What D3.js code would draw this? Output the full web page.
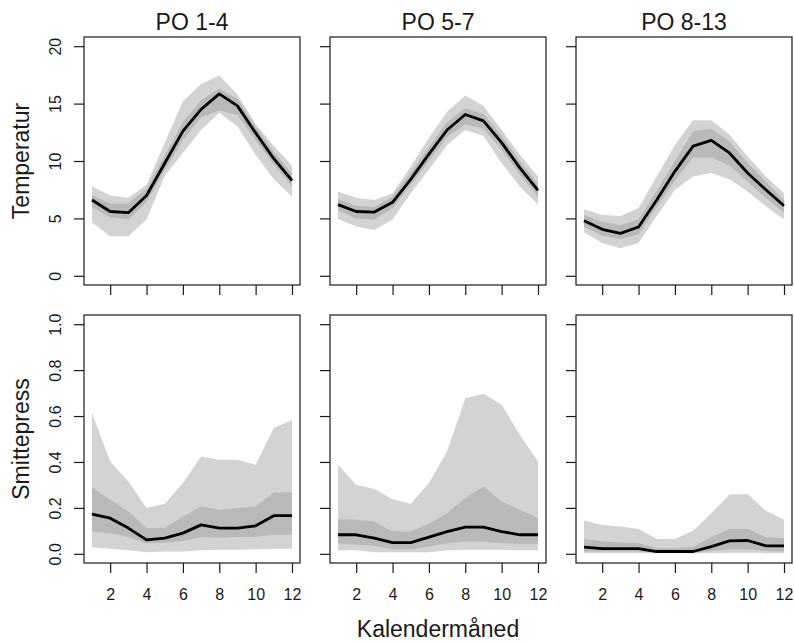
<!DOCTYPE html>
<html>
<head>
<meta charset="utf-8">
<script src="https://cdn.jsdelivr.net/npm/d3@7"></script>
<style>
  body { margin: 0; background: #fff; }
  svg { font-family: 'Liberation Sans', Arial, sans-serif; }
</style>
</head>
<body>
<svg id="chart" width="794" height="642"></svg>
<script>
// Data: monthly quantiles (median, inner band, outer band) per production area
var months = [1, 2, 3, 4, 5, 6, 7, 8, 9, 10, 11, 12]
var groups = ['PO 1-4', 'PO 5-7', 'PO 8-13']
var x_ticks = [2, 4, 6, 8, 10, 12]
var temp_ticks = [0, 5, 10, 15, 20]
var press_ticks = [0.0, 0.2, 0.4, 0.6, 0.8, 1.0]

// Temperatur
var temp_mid = [
  [6.6, 5.6, 5.5, 7.0, 9.8, 12.6, 14.5, 15.85, 14.8, 12.45, 10.2, 8.3],
  [6.2, 5.6, 5.55, 6.4, 8.4, 10.6, 12.7, 14.05, 13.5, 11.6, 9.4, 7.45],
  [4.8, 4.05, 3.7, 4.25, 6.6, 9.1, 11.3, 11.8, 10.7, 8.95, 7.5, 6.1]
]
var temp_in_hi = [
  [7.0, 6.3, 6.3, 7.6, 10.5, 13.4, 15.3, 16.3, 15.4, 13.0, 10.8, 8.9],
  [6.7, 6.1, 6.0, 6.9, 9.0, 11.2, 13.4, 14.6, 14.1, 12.2, 10.0, 8.0],
  [5.3, 4.7, 4.4, 4.9, 7.4, 10.0, 12.6, 12.8, 11.7, 9.8, 8.2, 6.6]
]
var temp_in_lo = [
  [6.0, 5.1, 4.9, 6.4, 9.2, 11.8, 13.8, 14.4, 14.0, 11.8, 9.7, 7.8],
  [5.7, 5.0, 4.9, 5.9, 7.9, 10.0, 12.1, 13.2, 12.8, 11.0, 8.8, 6.9],
  [4.3, 3.5, 3.2, 3.6, 6.0, 8.3, 10.3, 10.3, 9.6, 8.2, 6.8, 5.5]
]
var temp_out_hi = [
  [7.8, 7.0, 6.8, 7.9, 11.6, 15.2, 16.7, 17.45, 15.8, 13.2, 11.3, 9.6],
  [7.35, 6.8, 6.6, 7.2, 9.5, 12.0, 14.3, 15.7, 14.8, 12.7, 10.55, 8.65],
  [5.8, 5.3, 5.2, 5.9, 8.65, 11.4, 13.55, 13.55, 12.3, 10.4, 8.65, 7.2]
]
var temp_out_lo = [
  [4.65, 3.45, 3.45, 4.9, 8.7, 10.7, 12.7, 14.2, 13.0, 10.55, 8.4, 6.9],
  [4.95, 4.3, 4.0, 4.9, 7.2, 9.25, 11.4, 12.7, 12.2, 9.8, 7.8, 6.2],
  [3.8, 2.85, 2.4, 2.85, 5.2, 7.5, 8.65, 8.95, 8.4, 7.35, 6.05, 4.9]
]

// Smittepress
var press_mid = [
  [0.173, 0.155, 0.112, 0.061, 0.068, 0.09, 0.126, 0.112, 0.112, 0.122, 0.166, 0.166],
  [0.083, 0.083, 0.068, 0.049, 0.049, 0.073, 0.097, 0.116, 0.116, 0.097, 0.083, 0.083],
  [0.029, 0.023, 0.023, 0.023, 0.01, 0.01, 0.01, 0.031, 0.056, 0.058, 0.035, 0.035]
]
var press_in_hi = [
  [0.289, 0.235, 0.184, 0.112, 0.112, 0.163, 0.206, 0.192, 0.2, 0.206, 0.267, 0.267],
  [0.151, 0.148, 0.141, 0.097, 0.097, 0.131, 0.177, 0.243, 0.293, 0.228, 0.192, 0.155],
  [0.064, 0.054, 0.049, 0.046, 0.025, 0.025, 0.03, 0.073, 0.108, 0.108, 0.073, 0.068]
]
var press_in_lo = [
  [0.097, 0.09, 0.073, 0.046, 0.048, 0.056, 0.073, 0.07, 0.073, 0.073, 0.083, 0.083],
  [0.046, 0.039, 0.035, 0.02, 0.02, 0.032, 0.046, 0.054, 0.054, 0.046, 0.043, 0.043],
  [0.01, 0.01, 0.01, 0.01, 0.005, 0.005, 0.005, 0.012, 0.02, 0.02, 0.012, 0.01]
]
var press_out_hi = [
  [0.613, 0.402, 0.315, 0.199, 0.218, 0.308, 0.424, 0.41, 0.41, 0.388, 0.548, 0.584],
  [0.388, 0.301, 0.282, 0.238, 0.218, 0.308, 0.446, 0.678, 0.697, 0.649, 0.519, 0.402],
  [0.145, 0.126, 0.119, 0.108, 0.064, 0.064, 0.1, 0.177, 0.258, 0.26, 0.187, 0.148]
]
var press_out_lo = [
  [0.029, 0.022, 0.015, 0.007, 0.01, 0.01, 0.015, 0.018, 0.018, 0.02, 0.022, 0.022],
  [0.015, 0.015, 0.007, 0.007, 0.007, 0.007, 0.015, 0.018, 0.018, 0.018, 0.015, 0.015],
  [0.003, 0.003, 0.003, 0.003, 0.003, 0.003, 0.003, 0.003, 0.005, 0.005, 0.003, 0.003]
]

// Layout
var svg = d3.select('#chart')
var panel_left = [84, 330, 576]
var panel_width = 216
var rows = [
  {top: 37, bottom: 285, mid: temp_mid, in_hi: temp_in_hi, in_lo: temp_in_lo,
   out_hi: temp_out_hi, out_lo: temp_out_lo, domain: [0, 20], ticks: temp_ticks,
   fmt: d3.format('d'), title: 'Temperatur'},
  {top: 315, bottom: 563, mid: press_mid, in_hi: press_in_hi, in_lo: press_in_lo,
   out_hi: press_out_hi, out_lo: press_out_lo, domain: [0, 1], ticks: press_ticks,
   fmt: d3.format('.1f'), title: 'Smittepress'}
]
var outer_col = '#d3d3d3'
var inner_col = '#b9b9b9'
var ink = '#1a1a1a'

// R style axis padding of 4%
function pad(dom) {
  var p = (dom[1] - dom[0]) * 0.04
  return [dom[0] - p, dom[1] + p]
}

rows.forEach((row, r) => {
  var y = d3.scaleLinear().domain(pad(row.domain)).range([row.bottom, row.top])

  groups.forEach((grp, g) => {
    var left = panel_left[g]
    var x = d3.scaleLinear().domain(pad([1, 12])).range([left, left + panel_width])
    var panel = svg.append('g')

    var band = function(hi, lo) {
      return d3.area()
        .x((d, i) => x(months[i]))
        .y0((d, i) => y(lo[i]))
        .y1((d, i) => y(hi[i]))(months)
    }
    panel.append('path').attr('d', band(row.out_hi[g], row.out_lo[g])).attr('fill', outer_col)
    panel.append('path').attr('d', band(row.in_hi[g], row.in_lo[g])).attr('fill', inner_col)

    var line = d3.line()
      .x((d, i) => x(months[i]))
      .y(d => y(d))
    panel.append('path')
      .attr('d', line(row.mid[g]))
      .attr('fill', 'none')
      .attr('stroke', '#000')
      .attr('stroke-width', 2.8)
      .attr('stroke-linejoin', 'round')

    // box
    panel.append('rect')
      .attr('x', left)
      .attr('y', row.top)
      .attr('width', panel_width)
      .attr('height', row.bottom - row.top)
      .attr('fill', 'none')
      .attr('stroke', ink)
      .attr('stroke-width', 1.2)

    // y axis
    var ya = panel.append('g')
      .attr('transform', 'translate(' + left + ',0)')
      .call(d3.axisLeft(y).tickValues(row.ticks).tickSize(10).tickFormat(row.fmt))
    ya.select('.domain').remove()
    ya.selectAll('line').attr('stroke', ink).attr('stroke-width', 1.2)
    if (g == 0) {
      ya.selectAll('text')
        .attr('x', null)
        .attr('dy', null)
        .attr('text-anchor', 'middle')
        .attr('transform', 'translate(-23,0) rotate(-90)')
        .attr('font-size', 16)
        .attr('font-family', null)
        .attr('fill', ink)
    } else {
      ya.selectAll('text').remove()
    }

    // x axis
    var xa = panel.append('g')
      .attr('transform', 'translate(0,' + row.bottom + ')')
      .call(d3.axisBottom(x).tickValues(x_ticks).tickSize(10).tickFormat(d3.format('d')))
    xa.select('.domain').remove()
    xa.selectAll('line').attr('stroke', ink).attr('stroke-width', 1.2)
    if (r == 1) {
      xa.selectAll('text')
        .attr('y', 37)
        .attr('dy', null)
        .attr('font-size', 16)
        .attr('font-family', null)
        .attr('fill', ink)
    } else {
      xa.selectAll('text').remove()
    }

    if (r == 0) {
      svg.append('text')
        .text(grp)
        .attr('x', left + panel_width / 2)
        .attr('y', 30)
        .attr('text-anchor', 'middle')
        .attr('font-size', 23)
        .attr('fill', ink)
    }
  })

  svg.append('text')
    .text(row.title)
    .attr('text-anchor', 'middle')
    .attr('transform', 'translate(29,' + (row.top + row.bottom) / 2 + ') rotate(-90)')
    .attr('font-size', 23)
    .attr('fill', ink)
})

svg.append('text')
  .text('Kalendermåned')
  .attr('x', (panel_left[0] + panel_left[2] + panel_width) / 2)
  .attr('y', 637)
  .attr('text-anchor', 'middle')
  .attr('font-size', 23)
  .attr('fill', ink)
</script>
</body>
</html>
